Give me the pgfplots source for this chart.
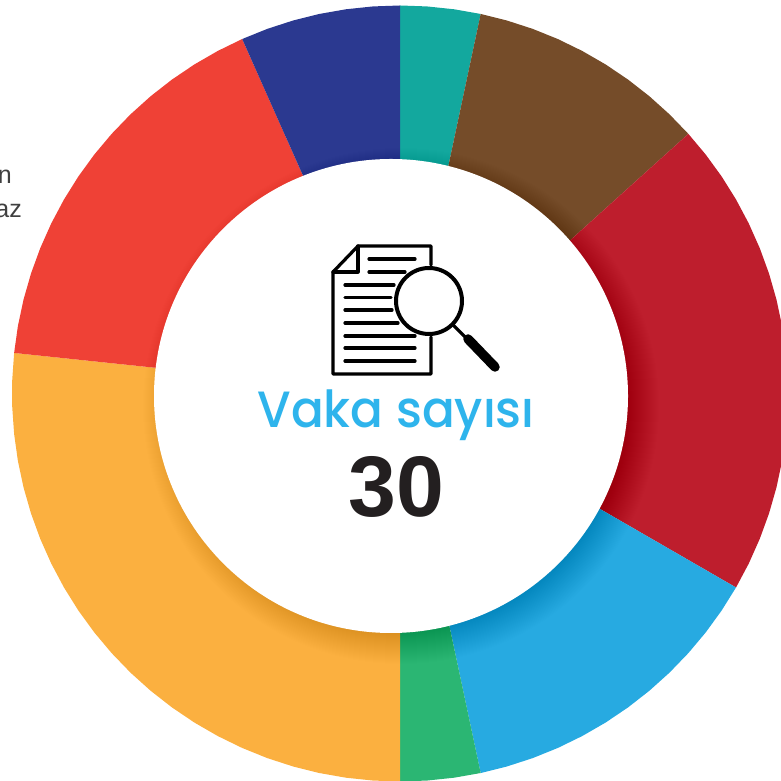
\documentclass[border=0pt]{standalone}
\usepackage{pgfplots}
\pgfplotsset{compat=1.18}
\usepackage{fontspec}
\setmainfont{Liberation Sans}
\newfontfamily\vakafont{Poppins Medium}
\definecolor{cteal}{HTML}{13A89E}
\definecolor{cbrown}{HTML}{754C29}
\definecolor{cred}{HTML}{BE1E2D}
\definecolor{cblue}{HTML}{27AAE1}
\definecolor{cgreen}{HTML}{2BB673}
\definecolor{corange}{HTML}{FBB040}
\definecolor{cred2}{HTML}{EF4136}
\definecolor{cnavy}{HTML}{2B3990}
\definecolor{ctext}{HTML}{2EB4EC}
\definecolor{cdark}{HTML}{231F20}
\begin{document}
\begin{tikzpicture}[x=1pt,y=1pt]
\path[use as bounding box] (0,0) rectangle (781,781);
\begin{axis}[
  at={(0pt,0pt)},anchor=south west,
  scale only axis,width=781pt,height=781pt,
  xmin=-400,xmax=381,ymin=-387.5,ymax=393.5,
  hide axis,clip=true]
\addplot[draw=none,fill=cteal,data cs=polar] coordinates {(0,0)(90,388)(86,388)(82,388)(78,388)} --cycle;
\addplot[draw=none,fill=cbrown,data cs=polar] coordinates {(0,0)(78,388)(74,388)(70,388)(66,388)(62,388)(58,388)(54,388)(50,388)(46,388)(42,388)} --cycle;
\addplot[draw=none,fill=cred,data cs=polar] coordinates {(0,0)(42,388)(38,388)(34,388)(30,388)(26,388)(22,388)(18,388)(14,388)(10,388)(6,388)(2,388)(-2,388)(-6,388)(-10,388)(-14,388)(-18,388)(-22,388)(-26,388)(-30,388)} --cycle;
\addplot[draw=none,fill=cblue,data cs=polar] coordinates {(0,0)(-30,388)(-34,388)(-38,388)(-42,388)(-46,388)(-50,388)(-54,388)(-58,388)(-62,388)(-66,388)(-70,388)(-74,388)(-78,388)} --cycle;
\addplot[draw=none,fill=cgreen,data cs=polar] coordinates {(0,0)(-78,388)(-82,388)(-86,388)(-90,388)} --cycle;
\addplot[draw=none,fill=corange,data cs=polar] coordinates {(0,0)(-90,388)(-94,388)(-98,388)(-102,388)(-106,388)(-110,388)(-114,388)(-118,388)(-122,388)(-126,388)(-130,388)(-134,388)(-138,388)(-142,388)(-146,388)(-150,388)(-154,388)(-158,388)(-162,388)(-166,388)(-170,388)(-174,388)(-178,388)(-182,388)(-186,388)} --cycle;
\addplot[draw=none,fill=cred2,data cs=polar] coordinates {(0,0)(-186,388)(-190,388)(-194,388)(-198,388)(-202,388)(-206,388)(-210,388)(-214,388)(-218,388)(-222,388)(-226,388)(-230,388)(-234,388)(-238,388)(-242,388)(-246,388)} --cycle;
\addplot[draw=none,fill=cnavy,data cs=polar] coordinates {(0,0)(-246,388)(-250,388)(-254,388)(-258,388)(-262,388)(-266,388)(-270,388)} --cycle;
\end{axis}
\begin{scope}[x=1pt,y=-1pt,shift={(0pt,781pt)}]
  % soft shadow under the white disc
  \foreach \r in {225,226,...,258}
    \fill[black,opacity=0.005] (401,406) circle[radius=\r];
  \fill[white] (391,396) circle[radius=237];
  % icon
  \begin{scope}[line width=3.2pt,line join=round,line cap=round,black]
    \draw (431,265) -- (431,246) -- (358,246) -- (333,272) -- (333,374) -- (431,374) -- (431,337);
    \draw (358,246) -- (358,272) -- (333,272);
    \foreach \a/\b/\c in {369/415/259,369/405/272,345/394/285,345/391/297.5,345/392/310,345/398/323,345/415/336,345/415/348,345/415/361}
      \draw (\a,\c) -- (\b,\c);
    \draw[line width=4pt,fill=white] (429,301) circle[radius=33];
    \draw (453,325) -- (466,338);
    \draw[line width=9.5pt] (468,339) -- (495,367);
  \end{scope}
  % texts
  \node[anchor=base,inner sep=0pt,text=ctext,xscale=0.95,font=\vakafont\fontsize{51}{60}\selectfont] at (396,428) {Vaka sayısı};
  \node[anchor=base,inner sep=0pt,text=cdark,font=\bfseries\fontsize{86}{90}\selectfont] at (396.5,517) {30};
  \node[anchor=base east,inner sep=0pt,text=black!75,font=\fontsize{25}{28}\selectfont] at (12,184) {n};
  \node[anchor=base east,inner sep=0pt,text=black!75,font=\fontsize{25}{28}\selectfont] at (22,218) {az};
\end{scope}
\end{tikzpicture}
\end{document}
